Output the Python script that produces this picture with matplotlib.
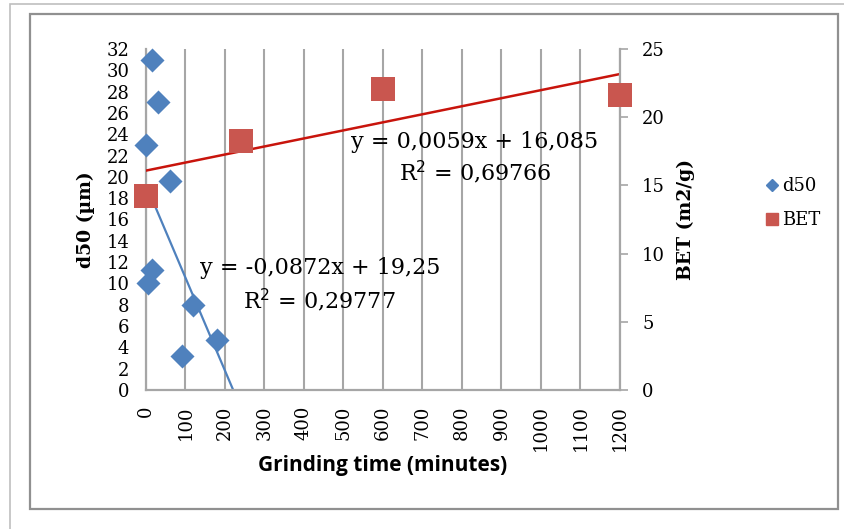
import matplotlib
matplotlib.use("Agg")
import matplotlib.pyplot as plt
import numpy as np
from matplotlib.lines import Line2D
from matplotlib.patches import Rectangle

# ---- data ----
d50_time = [15, 30, 0, 60, 15, 5, 120, 180, 90]
d50_vals = [31, 27, 23, 19.6, 11.3, 10, 8, 4.7, 3.2]
bet_time = [0, 240, 600, 1200]
bet_vals = [14.2, 18.25, 22.1, 21.6]
d50_fit = (-0.0872, 19.25)
bet_fit = (0.0059, 16.085)
x_ticks = list(range(0, 1300, 100))
left_ticks = list(range(0, 33, 2))
right_ticks = list(range(0, 26, 5))

blue = "#4F81BD"
red = "#C9564F"
trend_red = "#C8140C"
grid = "#A6A6A6"
serif = "DejaVu Serif"

fig = plt.figure(figsize=(8.45, 5.29), dpi=100)
# frames
fig.patches.append(Rectangle((10/845, 1-600/529), 900/845, 596/529, transform=fig.transFigure,
                             fill=False, edgecolor="#BFBFBF", linewidth=1.2))
fig.patches.append(Rectangle((30/845, 1-509/529), 808/845, 495/529, transform=fig.transFigure,
                             fill=False, edgecolor="#909090", linewidth=1.6))

ax = fig.add_axes([146/845, 1-390/529, 474/845, 341/529])
ax2 = ax.twinx()

ax.set_xlim(0, 1200)
ax.set_ylim(0, 32)
ax2.set_ylim(0, 25)

ax.set_xticks(x_ticks)
ax.set_xticklabels([str(t) for t in x_ticks], rotation=90, family=serif, fontsize=13)
ax.set_yticks(left_ticks)
ax.set_yticklabels([str(t) for t in left_ticks], family=serif, fontsize=13)
ax2.set_yticks(right_ticks)
ax2.set_yticklabels([str(t) for t in right_ticks], family=serif, fontsize=13)

ax.tick_params(axis="y", length=0, pad=12)
ax.tick_params(axis="x", length=0, pad=11)
ax2.tick_params(axis="y", length=6, width=1.2, color=grid, pad=10, direction="out")

for s in ["top", "right"]:
    ax.spines[s].set_visible(False)
for s in ["top", "left", "bottom"]:
    ax2.spines[s].set_visible(False)
for a, s in [(ax, "left"), (ax, "bottom"), (ax2, "right")]:
    a.spines[s].set_color(grid)
    a.spines[s].set_linewidth(1.6)

ax.xaxis.grid(True, color=grid, linewidth=1.5)
ax.set_axisbelow(True)

# trendlines
xx = np.array([0, 1200])
ax.plot(xx, d50_fit[0]*xx + d50_fit[1], color=blue, linewidth=1.6, zorder=2)
ax2.plot(xx, bet_fit[0]*xx + bet_fit[1], color=trend_red, linewidth=1.8, zorder=2)

ax.scatter(d50_time, d50_vals, marker="D", s=150, color=blue, zorder=3, clip_on=False, linewidths=0)
ax2.scatter(bet_time, bet_vals, marker="s", s=300, color=red, zorder=3, clip_on=False, linewidths=0)

ax.set_xlabel("Grinding time (minutes)", family="Open Sans", fontweight="bold", fontsize=15, labelpad=3)
ax.set_ylabel("d50 (µm)", family=serif, fontweight="bold", fontsize=13.5, labelpad=8)
ax2.set_ylabel("BET (m2/g)", family=serif, fontweight="bold", fontsize=13.5, labelpad=8)

fs = 16
fig.text(475/845, 1-142/529, "y = 0,0059x + 16,085", family=serif, fontsize=fs, ha="center", va="center")
fig.text(475/845, 1-172/529, "R$^2$ = 0,69766", family=serif, fontsize=fs, ha="center", va="center")
fig.text(320/845, 1-268/529, "y = -0,0872x + 19,25", family=serif, fontsize=fs, ha="center", va="center")
fig.text(320/845, 1-300/529, "R$^2$ = 0,29777", family=serif, fontsize=fs, ha="center", va="center")

handles = [Line2D([], [], marker="D", color=blue, linestyle="none", markersize=6.5),
           Line2D([], [], marker="s", color=red, linestyle="none", markersize=9)]
leg = fig.legend(handles, ["d50", "BET"], loc="center left", bbox_to_anchor=(750/845, 1-203/529),
                 frameon=False, prop={"family": serif, "size": 13}, handlelength=0.6,
                 handletextpad=0.3, labelspacing=0.9)

fig.savefig("out.png", dpi=100)
